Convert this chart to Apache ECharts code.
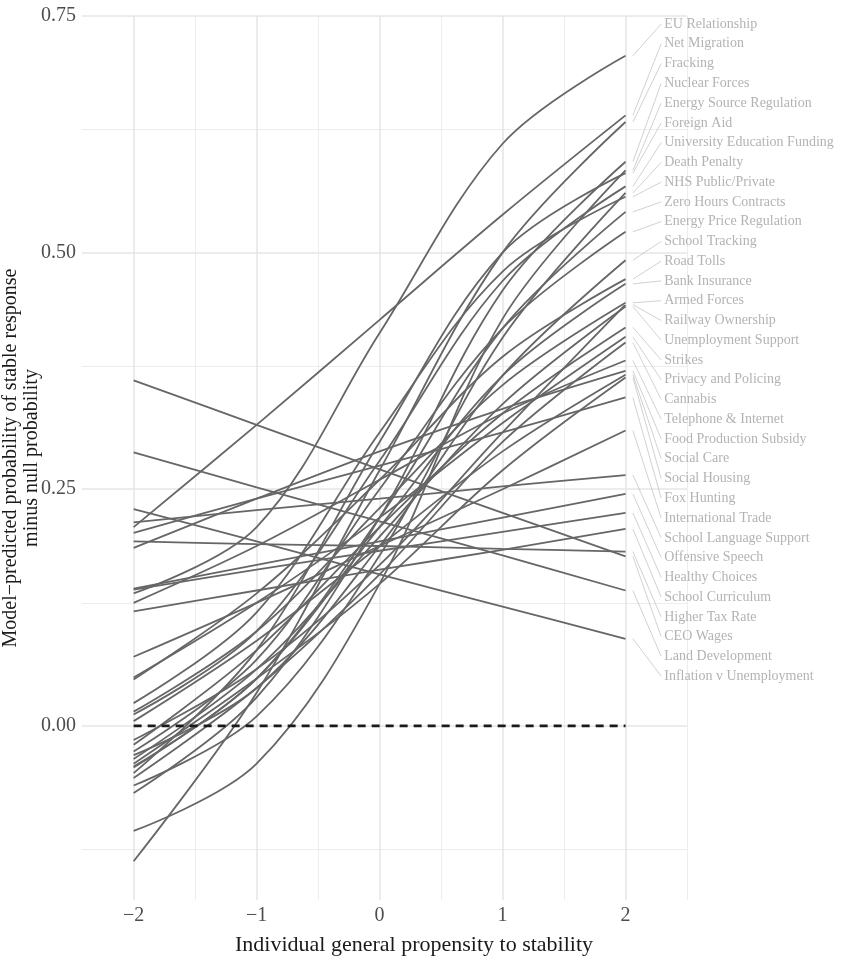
<!DOCTYPE html>
<html><head><meta charset="utf-8">
<script src="https://cdn.jsdelivr.net/npm/echarts@6/dist/echarts.min.js"></script>
<style>html,body{margin:0;padding:0;background:#fff}#c{width:841px;height:960px}</style>
</head><body><div id="c"></div>
<script>
// x positions at which each curve was read
const xPoints = [-2, -1, 0, 1, 2];
const issues = ["EU Relationship","Net Migration","Fracking","Nuclear Forces","Energy Source Regulation","Foreign Aid","University Education Funding","Death Penalty","NHS Public/Private","Zero Hours Contracts","Energy Price Regulation","School Tracking","Road Tolls","Bank Insurance","Armed Forces","Railway Ownership","Unemployment Support","Strikes","Privacy and Policing","Cannabis","Telephone & Internet","Food Production Subsidy","Social Care","Social Housing","Fox Hunting","International Trade","School Language Support","Offensive Speech","Healthy Choices","School Curriculum","Higher Tax Rate","CEO Wages","Land Development","Inflation v Unemployment"];
const atMinus2 = [0.140,0.210,-0.143,-0.071,-0.111,-0.050,0.012,-0.063,0.024,-0.043,-0.027,-0.031,0.049,-0.044,0.015,-0.015,-0.035,-0.020,0.051,-0.055,0.130,0.188,0.005,-0.040,0.204,0.073,0.215,0.145,0.144,0.121,0.195,0.365,0.289,0.229];
const atMinus1 = [0.210,0.318,0.035,0.030,-0.040,0.080,0.100,0.010,0.120,0.050,0.070,0.040,0.140,0.050,0.100,0.060,0.060,0.080,0.130,0.040,0.190,0.240,0.090,0.050,0.240,0.130,0.228,0.170,0.165,0.143,0.192,0.318,0.252,0.195];
const atZero   = [0.415,0.429,0.270,0.220,0.150,0.300,0.280,0.180,0.310,0.220,0.250,0.190,0.260,0.210,0.230,0.170,0.200,0.210,0.220,0.160,0.260,0.290,0.190,0.150,0.275,0.190,0.240,0.195,0.185,0.165,0.190,0.271,0.216,0.160];
const atPlus1  = [0.615,0.540,0.500,0.460,0.430,0.500,0.470,0.410,0.480,0.420,0.420,0.370,0.390,0.370,0.360,0.310,0.340,0.330,0.320,0.300,0.330,0.335,0.290,0.270,0.310,0.250,0.253,0.220,0.205,0.186,0.187,0.225,0.180,0.126];
const atPlus2  = [0.708,0.645,0.638,0.596,0.587,0.584,0.570,0.563,0.559,0.543,0.522,0.492,0.472,0.467,0.447,0.445,0.443,0.421,0.411,0.405,0.386,0.375,0.371,0.368,0.347,0.312,0.265,0.245,0.225,0.208,0.184,0.179,0.143,0.092];
const xTickLabels = [-2, -1, 0, 1, 2];
const yTickLabels = [0, 0.25, 0.5, 0.75];
const xMajorGrid = [-2, -1, 0, 1, 2];
const xMinorGrid = [-1.5, -0.5, 0.5, 1.5, 2.5];
const yMajorGrid = [0, 0.25, 0.5, 0.75];
const yMinorGrid = [-0.125, 0.125, 0.375, 0.625];
const nullLine = [[-2, 0], [2, 0]];
const xTitle = 'Individual general propensity to stability';
const yTitle = 'Model\u2212predicted probability of stable response\nminus null probability';

const FONT = '"Liberation Serif", "DejaVu Serif", serif';
const chart = echarts.init(document.getElementById('c'), null, {renderer: 'canvas'});

const colsByPoint = [atMinus2, atMinus1, atZero, atPlus1, atPlus2];
const curveSeries = issues.map((name, i) => ({
  type: 'line', name: name, smooth: 0.35, symbol: 'none', z: 3,
  lineStyle: {color: '#666666', width: 1.8},
  data: xPoints.map((x, k) => [x, colsByPoint[k][i]])
}));

// label layout (evenly spaced in value space, like a repel layout)
const labelTop = 0.7415, labelBottom = 0.0525;
const labelData = issues.map((name, i) => ({
  name: name,
  value: [atPlus2[i], labelTop - i * (labelTop - labelBottom) / (issues.length - 1)]
}));

function gridLines(vals, axis, w, c) {
  return vals.map(v => ({[axis]: v, lineStyle: {width: w, color: c, type: 'solid'}}));
}

const option = {
  animation: false,
  backgroundColor: '#ffffff',
  grid: {left: 82, right: 154, top: 16, bottom: 60, outerBoundsMode: 'none', containLabel: false},
  graphic: [{
    type: 'text', x: 21, y: 458, rotation: Math.PI / 2,
    style: {text: yTitle, fill: '#1a1a1a', font: '20px ' + FONT, align: 'center', verticalAlign: 'middle', lineHeight: 21}
  }, {
    type: 'text', x: 414, y: 945,
    style: {text: xTitle, fill: '#1a1a1a', font: '22px ' + FONT, align: 'center', verticalAlign: 'middle'}
  }],
  xAxis: {
    type: 'value', min: -2.42, max: 2.5,
    axisLine: {show: false}, axisTick: {show: false}, splitLine: {show: false},
    axisLabel: {customValues: xTickLabels, color: '#4d4d4d', fontFamily: FONT, fontSize: 20, margin: 6,
      formatter: v => (v < 0 ? '\u2212' + Math.abs(v) : String(v))}
  },
  yAxis: {
    type: 'value', min: -0.184, max: 0.75,
    axisLine: {show: false}, axisTick: {show: false}, splitLine: {show: false},
    axisLabel: {customValues: yTickLabels, color: '#4d4d4d', fontFamily: FONT, fontSize: 20, margin: 6,
      formatter: v => v.toFixed(2)}
  },
  series: [
    {
      type: 'line', data: [], z: 0, silent: true,
      markLine: {
        z: 0, zlevel: 0,
        silent: true, symbol: ['none', 'none'], label: {show: false}, animation: false,
        data: [].concat(
          gridLines(xMinorGrid, 'xAxis', 0.9, '#ebebeb'),
          gridLines(yMinorGrid, 'yAxis', 0.9, '#ebebeb'),
          gridLines(xMajorGrid, 'xAxis', 1.6, '#e6e6e6'),
          gridLines(yMajorGrid, 'yAxis', 1.6, '#e6e6e6')
        )
      }
    },
    ...curveSeries,
    {
      type: 'line', data: nullLine, symbol: 'none', z: 6,
      lineStyle: {color: '#1a1a1a', width: 2.6, type: [8, 6]}
    },
    {
      type: 'custom', z: 7, clip: false, silent: true,
      data: labelData,
      renderItem: function (params, api) {
        const p0 = api.coord([2.06, api.value(0)]);
        const p1 = api.coord([2.29, api.value(1)]);
        const p2 = api.coord([2.315, api.value(1)]);
        return {
          type: 'group',
          children: [
            {type: 'line', shape: {x1: p0[0], y1: p0[1], x2: p1[0], y2: p1[1]},
             style: {stroke: '#bdbdbd', lineWidth: 0.7}},
            {type: 'text', x: p2[0], y: p2[1],
             style: {text: issues[params.dataIndex], fill: '#b3b3b3', font: '14px ' + FONT,
                     verticalAlign: 'middle', align: 'left'}}
          ]
        };
      }
    }
  ]
};
chart.setOption(option);
</script>
</body></html>
